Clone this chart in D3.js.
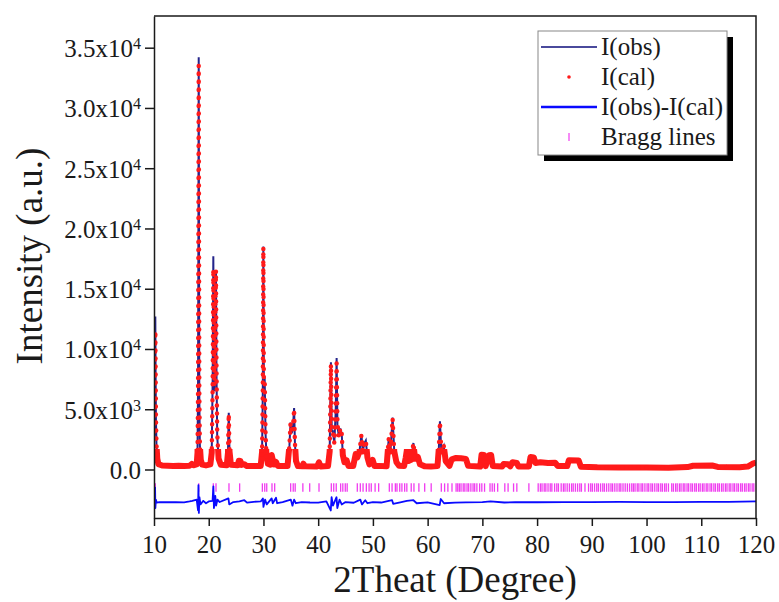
<!DOCTYPE html>
<html>
<head>
<meta charset="utf-8">
<script src="https://cdnjs.cloudflare.com/ajax/libs/d3/7.8.5/d3.min.js"></script>
<style>
  body { margin: 0; background: #fff; }
</style>
</head>
<body>
<svg id="chart" width="779" height="602"></svg>
<script>
const theta = [
  10.00, 10.08, 10.15, 10.20, 10.24, 10.29, 10.35, 10.45, 10.60, 10.80,
  11.50, 12.50, 13.50, 14.50, 15.50, 16.50, 16.90, 17.20,
  17.80, 17.95, 18.05, 18.12, 18.17, 18.22, 18.28, 18.38, 18.55, 18.80, 19.50,
  20.30, 20.55, 20.72, 20.84, 20.93, 21.05, 21.20, 21.32, 21.42, 21.55, 21.80, 22.20,
  23.30, 23.52, 23.66, 23.80, 24.05, 25.30, 25.50, 25.80, 26.00, 26.50, 26.90, 28.50,
  29.50, 29.75, 29.88, 29.98, 30.07, 30.22, 30.38, 30.55, 30.80,
  31.25, 31.50, 31.70, 31.95, 32.30, 32.60,
  34.40, 34.75, 34.95, 35.15, 35.38, 35.60, 35.75, 35.95, 36.30,
  37.10, 37.30, 37.60, 39.80, 40.15, 40.45,
  41.80, 42.10, 42.33, 42.48, 42.65, 42.95, 43.20, 43.37, 43.52, 43.80, 44.05, 44.30, 44.50, 44.80, 45.20, 45.55,
  46.40, 46.85, 47.15, 47.55, 47.90, 48.15, 48.45, 48.70, 49.00, 49.35, 49.95, 50.30, 51.00,
  52.50, 52.90, 53.20, 53.60, 53.90, 54.30, 54.80,
  55.70, 56.00, 56.20, 56.50, 57.00, 57.40, 57.70, 58.20, 58.60, 59.50, 60.60,
  61.80, 62.05, 62.25, 62.50, 62.95, 63.30, 64.00,
  64.40, 65.20, 66.10, 67.00, 67.40, 69.60, 69.85, 70.30, 70.60, 71.20, 71.60, 71.90,
  73.60, 73.90, 74.70, 75.10, 75.50, 76.30, 76.60, 78.50, 78.80, 79.40, 79.70,
  80.60, 82.00, 83.30, 83.80, 85.50, 85.80, 87.60, 88.00,
  91.00, 95.00, 100.0, 104.0, 107.5, 108.5, 112.0, 113.0, 117.0, 118.5, 119.5, 120.0
];
const iObs = [
  2600, 3200, 5500, 9000, 12700, 8000, 4200, 2000, 900, 450,
  330, 310, 300, 310, 300, 310, 480, 350,
  420, 1500, 7000, 21000, 34200, 20000, 6000, 2000, 800, 400, 340,
  420, 1500, 7500, 17700, 9500, 6500, 11500, 16500, 8000, 2800, 900, 400,
  350, 1500, 4700, 1400, 400, 350, 750, 720, 380, 460, 300, 280,
  300, 1500, 6500, 18500, 7800, 7600, 3000, 1200, 480,
  400, 1250, 800, 430, 650, 300,
  300, 2000, 3900, 3000, 3400, 5100, 2200, 700, 280,
  260, 500, 260, 250, 620, 250,
  280, 1500, 8900, 3200, 3200, 2200, 4800, 9250, 3600, 2700, 3400, 3000, 1200, 600, 780, 280,
  280, 1300, 1000, 1500, 2900, 1500, 2200, 2400, 1000, 430, 800, 280, 300,
  260, 2600, 1500, 4300, 1500, 600, 300,
  280, 1000, 1600, 700, 800, 2200, 900, 1100, 430, 260, 240,
  280, 1800, 4000, 1500, 1950, 700, 300,
  860, 980, 930, 880, 300, 240, 1250, 1200, 280, 1200, 1200, 280,
  240, 460, 430, 260, 600, 540, 240, 240, 1050, 1000, 540,
  600, 540, 560, 280, 280, 760, 740, 230,
  180, 160, 170, 150, 200, 310, 330, 210, 180, 240, 500, 560
];
const iCal = [
  2500, 3100, 5200, 8500, 11500, 8600, 4500, 2100, 900, 450,
  330, 310, 300, 310, 300, 310, 460, 350,
  420, 1400, 6500, 20500, 33500, 21000, 6500, 2000, 800, 400, 340,
  420, 1400, 7000, 16600, 10000, 7000, 12000, 16500, 8500, 3000, 900, 400,
  350, 1400, 4600, 1500, 400, 350, 720, 700, 380, 440, 300, 280,
  300, 1500, 6500, 18400, 7600, 7600, 3000, 1200, 480,
  400, 1200, 800, 430, 620, 300,
  300, 2000, 3850, 3000, 3400, 5000, 2200, 700, 280,
  260, 480, 260, 250, 600, 250,
  280, 1500, 8700, 3400, 3200, 2200, 4800, 8800, 3800, 2700, 3400, 3000, 1200, 600, 760, 280,
  280, 1280, 1000, 1500, 2850, 1500, 2200, 2400, 1000, 430, 790, 280, 300,
  260, 2600, 1500, 4200, 1500, 600, 300,
  280, 1000, 1600, 700, 800, 2200, 900, 1050, 430, 260, 240,
  280, 1800, 3950, 1500, 1950, 700, 300,
  840, 960, 930, 880, 300, 240, 1220, 1200, 280, 1180, 1200, 280,
  240, 460, 430, 260, 600, 540, 240, 240, 1030, 1000, 540,
  600, 540, 560, 280, 280, 760, 740, 230,
  180, 160, 170, 150, 200, 310, 330, 210, 180, 240, 500, 560
];

// difference curve
const diffTheta = [
  10.00, 10.20, 10.25, 10.35, 10.50, 11.0, 12.5, 14.0, 15.5, 16.5, 17.0, 17.8,
  18.05, 18.12, 18.20, 18.30, 18.50, 19.0, 19.5, 20.0, 20.7, 20.85, 20.95, 21.20, 21.35, 21.6, 22.0,
  23.6, 23.75, 24.5, 25.6, 26.5, 27.0, 28.2, 29.5, 29.9, 30.0, 30.3, 30.6, 31.5, 31.7, 32.3, 32.5, 33.5,
  35.0, 35.3, 35.6, 35.9, 37.0, 38.5, 40.0, 41.5, 42.3, 42.45, 42.7, 43.35, 43.5, 43.9, 44.3, 45.0,
  46.5, 47.7, 48.0, 48.6, 49.0, 50.0, 51.5, 53.5, 53.7, 55.0, 56.2, 57.4, 58.0, 60.0, 62.2, 62.4, 63.0, 65.0,
  67.0, 70.0, 71.5, 74.0, 76.0, 80.0, 85.0, 90.0, 95.0, 100.0, 105.0, 110.0, 115.0, 120.0
];
const diff = [
  -2700, -1500, -3200, -2500, -2750, -2700, -2720, -2700, -2730, -2650, -2600, -2500,
  -3400, -1300, -3600, -2300, -2900, -2600, -2800, -2650, -2600, -1400, -3200, -2200, -3000, -2500, -2700,
  -2400, -2900, -2700, -2640, -2550, -2750, -2680, -2650, -2400, -3100, -2500, -2900, -2400, -2800, -2350, -2800, -2700,
  -2500, -3000, -2500, -2800, -2700, -2740, -2750, -2650, -3400, -2300, -3000, -2300, -3200, -2500, -2900, -2700,
  -2760, -2500, -2900, -2550, -2800, -2700, -2740, -2550, -2850, -2720, -2600, -2550, -2800, -2730, -2950, -2450, -2800, -2750,
  -2730, -2700, -2650, -2740, -2710, -2720, -2700, -2700, -2690, -2700, -2700, -2680, -2690, -2650
];

// Bragg reflection positions
const bragg = [
  10.24, 18.17, 20.84, 21.33, 23.7, 25.65, 29.8, 30.23, 30.6, 31.56, 32.05,
  34.97, 35.44, 35.8, 37.2, 38.45, 40.15, 42.4, 42.84, 43.3, 44.1, 44.5, 44.95, 45.3,
  47.15, 47.7, 48.2, 48.8, 49.3, 49.7, 50.4, 51.05, 53.0, 53.5, 54.1, 54.4, 54.9, 55.3,
  55.8, 56.2, 57.0, 57.5, 58.4, 59.46, 60.65, 62.5, 63.1, 63.7, 64.45,
  65.2, 65.5, 65.8, 66.1, 66.5, 66.8, 67.2, 67.5, 67.9, 68.3, 68.6, 69.0, 69.5, 69.9, 70.4,
  71.4, 71.8, 72.2, 72.8, 74.1, 74.7, 75.7, 76.3, 78.5,
  80.2, 80.6, 80.9, 81.3, 81.6, 82.0, 82.4, 82.7, 83.2, 83.6, 83.9, 84.4, 84.8, 85.1,
  85.5, 85.9, 86.3, 86.6, 87.0, 87.4, 87.8, 88.1, 88.75,
  89.4, 89.8, 90.1, 90.5, 90.9, 91.2, 91.6, 92.0, 92.3, 92.7, 93.1, 93.5, 93.8, 94.2,
  94.6, 95.0, 95.3, 95.7, 96.1, 96.5, 96.9, 97.3, 97.6, 97.9,
  98.3, 98.6, 99.0, 99.3, 99.7, 100.1, 100.4, 100.8, 101.1, 101.5, 101.9, 102.2, 102.6,
  102.9, 103.3, 103.6, 104.0,
  104.6, 104.9, 105.3, 105.6, 106.0, 106.3, 106.7, 107.0, 107.4, 107.7, 108.1, 108.4,
  108.8, 109.1, 109.5, 109.8, 110.2, 110.5, 110.9, 111.2, 111.6, 111.9, 112.3, 112.6,
  113.0, 113.3, 113.7, 114.0, 114.4, 114.7, 115.1, 115.4, 115.8, 116.1, 116.5, 116.8,
  117.2, 117.5, 117.9, 118.2, 118.6, 118.9, 119.3, 119.6
];
const braggLow = -1850, braggHigh = -1150;

const xTicks = [10, 20, 30, 40, 50, 60, 70, 80, 90, 100, 110, 120];
const yTicks = [0, 5000, 10000, 15000, 20000, 25000, 30000, 35000];
const legendItems = ["I(obs)", "I(cal)", "I(obs)-I(cal)", "Bragg lines"];

const obsColor = "#24248a", calColor = "#ff1a1a", diffColor = "#0a0aff", braggColor = "#f03cf0";
const serif = "'Liberation Serif', 'DejaVu Serif', serif";
const ink = "#1a1a1a";

const W = 779, H = 602;
const margin = { top: 16, right: 23, bottom: 84, left: 154 };
const svg = d3.select("#chart");

const x = d3.scaleLinear().domain([10, 120]).range([margin.left, W - margin.right]);
const y = d3.scaleLinear().domain([-4025, 37630]).range([H - margin.bottom, margin.top]);

const defs = svg.append("defs");
defs.append("clipPath").attr("id", "plotClip").append("rect")
  .attr("x", margin.left).attr("y", margin.top)
  .attr("width", x(120) - x(10)).attr("height", y(-4025) - y(37630));
defs.append("clipPath").attr("id", "lowClip").append("rect")
  .attr("x", margin.left).attr("y", y(1700))
  .attr("width", x(120) - x(10)).attr("height", y(-4025) - y(1700));

const plot = svg.append("g").attr("clip-path", "url(#plotClip)");

const profile = theta.map((t, i) => ({ t: t, obs: iObs[i], cal: iCal[i] }));

const obsLine = d3.line().x(d => x(d.t)).y(d => y(d.obs));
const calLine = d3.line().x(d => x(d.t)).y(d => y(d.cal));

// Bragg ticks
plot.append("g").selectAll("line").data(bragg).join("line")
  .attr("x1", d => x(d)).attr("x2", d => x(d))
  .attr("y1", y(braggLow)).attr("y2", y(braggHigh))
  .attr("stroke", braggColor).attr("stroke-width", 1.3);

// difference
plot.append("path")
  .datum(diffTheta.map((t, i) => [t, diff[i]]))
  .attr("fill", "none").attr("stroke", diffColor).attr("stroke-width", 1.8)
  .attr("stroke-linejoin", "round")
  .attr("d", d3.line().x(d => x(d[0])).y(d => y(d[1])));

// observed
plot.append("path").datum(profile)
  .attr("fill", "none").attr("stroke", obsColor).attr("stroke-width", 2)
  .attr("d", obsLine);

// calculated: dense markers near the background, spaced markers on the peaks
plot.append("path").datum(profile)
  .attr("fill", "none").attr("stroke", calColor).attr("stroke-width", 6)
  .attr("stroke-linejoin", "round")
  .attr("clip-path", "url(#lowClip)")
  .attr("d", calLine);
plot.append("path").datum(profile)
  .attr("fill", "none").attr("stroke", calColor).attr("stroke-width", 4.5)
  .attr("stroke-linecap", "round").attr("stroke-dasharray", "0 8")
  .attr("d", calLine);

// axes
const xAxis = svg.append("g")
  .attr("transform", `translate(0,${y(-4025)})`)
  .call(d3.axisBottom(x).tickValues(xTicks).tickSize(8).tickPadding(9).tickSizeOuter(0));
xAxis.attr("font-family", serif).attr("font-size", 25);
xAxis.selectAll(".tick text").attr("fill", ink);

const yAxis = svg.append("g")
  .attr("transform", `translate(${x(10)},0)`)
  .call(d3.axisLeft(y).tickValues(yTicks).tickSize(9).tickPadding(4).tickSizeOuter(0));
yAxis.attr("font-family", serif).attr("font-size", 25);
yAxis.selectAll(".tick text").attr("fill", ink).attr("dy", "0.36em").each(function(d) {
  const t = d3.select(this).text(null);
  if (d === 0) { t.text("0.0"); return; }
  const e = Math.floor(Math.log10(d));
  t.append("tspan").text((d / Math.pow(10, e)).toFixed(1) + "x10");
  t.append("tspan").attr("dy", "-0.5em").attr("font-size", 16).text(e);
});

[xAxis, yAxis].forEach(g => {
  g.selectAll("path.domain, .tick line").attr("stroke", ink).attr("stroke-width", 1.5);
});

// top and right frame
svg.append("path")
  .attr("d", `M${x(10)},${y(37630)}H${x(120)}V${y(-4025)}`)
  .attr("fill", "none").attr("stroke", ink).attr("stroke-width", 1.5);

// axis titles
svg.append("text")
  .attr("x", (x(10) + x(120)) / 2).attr("y", 592)
  .attr("text-anchor", "middle").attr("font-family", serif).attr("font-size", 37).attr("fill", ink)
  .text("2Theat (Degree)");
svg.append("text")
  .attr("transform", `translate(42,256) rotate(-90)`)
  .attr("text-anchor", "middle").attr("font-family", serif).attr("font-size", 37).attr("fill", ink)
  .text("Intensity (a.u.)");

// legend
const lg = svg.append("g");
const lx = 538, ly = 31, lw = 189, lh = 124;
lg.append("rect").attr("x", lx + 6).attr("y", ly + 6).attr("width", lw).attr("height", lh).attr("fill", "#000");
lg.append("rect").attr("x", lx).attr("y", ly).attr("width", lw).attr("height", lh)
  .attr("fill", "#fff").attr("stroke", "#888").attr("stroke-width", 1);

legendItems.forEach((name, i) => {
  const cy = 47 + i * 30;
  if (i === 0 || i === 2) {
    lg.append("line").attr("x1", 541).attr("x2", 597).attr("y1", cy).attr("y2", cy)
      .attr("stroke", i === 0 ? "#4a4a9c" : diffColor).attr("stroke-width", i === 0 ? 2 : 2.5);
  } else if (i === 1) {
    lg.append("circle").attr("cx", 569).attr("cy", cy).attr("r", 1.8).attr("fill", calColor);
  } else {
    lg.append("line").attr("x1", 569).attr("x2", 569).attr("y1", cy - 4).attr("y2", cy + 4)
      .attr("stroke", braggColor).attr("stroke-width", 1.2);
  }
  lg.append("text").attr("x", 601).attr("y", cy + 8)
    .attr("font-family", serif).attr("font-size", 25).attr("fill", ink).text(name);
});
</script>
</body>
</html>
